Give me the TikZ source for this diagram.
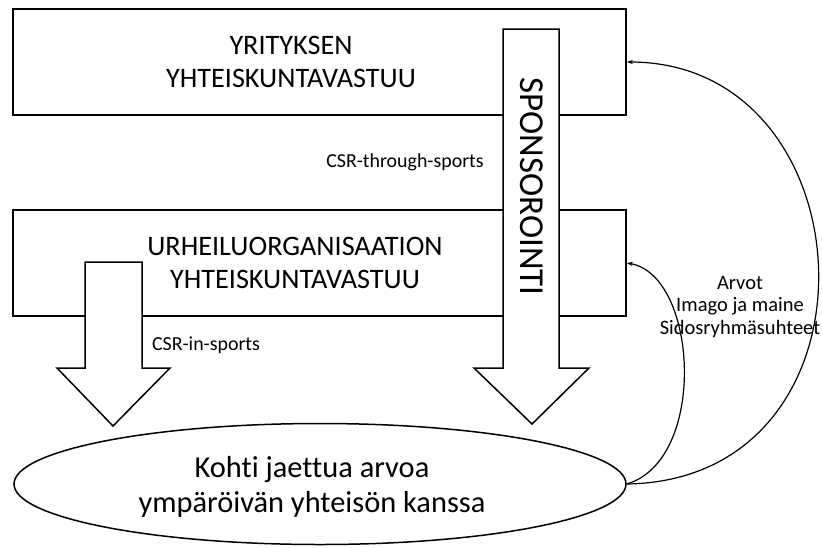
\documentclass[tikz,border=0pt]{standalone}
\usepackage{fontspec}
\setmainfont[Ligatures=NoCommon]{Carlito}
\usetikzlibrary{arrows.meta,shapes.geometric}
\begin{document}
\begin{tikzpicture}[x=1pt,y=-1pt,
  box/.style={draw, line width=1.5pt, minimum width=613pt, minimum height=106pt, inner sep=0pt},
  blockarrow/.style={draw, fill=white, line width=1.5pt, line join=miter},
  oval/.style={draw, ellipse, line width=1.5pt, minimum width=612pt, minimum height=121pt, inner sep=0pt},
  big/.style={font=\fontsize{28.2}{33}\selectfont, align=center, inner sep=0pt},
  vert/.style={font=\fontsize{35}{40}\selectfont, inner sep=0pt},
  huge/.style={font=\fontsize{30.4}{35}\selectfont, align=center, inner sep=0pt},
  small/.style={font=\fontsize{19.9}{22.5}\selectfont, align=center, inner sep=0pt},
  side/.style={font=\fontsize{20.5}{22.5}\selectfont, align=center, inner sep=0pt},
  link/.style={line width=1.2pt, -{Stealth[length=6pt,width=4pt]}}]
\useasboundingbox (0,0) rectangle (822,547);
\node[box] (r1) at (319.5,62) {};
\node[box] (r2) at (319.5,263) {};
\node[big] (t1) at (291,62) {YRITYKSEN\\YHTEISKUNTAVASTUU};
\node[big] (t2) at (295,263) {URHEILUORGANISAATION\\YHTEISKUNTAVASTUU};
% block arrows
\draw[blockarrow] (503,29) coordinate (sa) -- (559,29) -- (559,368) -- (589,368) -- (532,424) coordinate (sb) -- (474,368) -- (503,368) -- cycle;
\draw[blockarrow] (85,262) coordinate (la) -- (142,262) -- (142,368) -- (170,368) -- (113,426) coordinate (lb) -- (57,368) -- (85,368) -- cycle;
\node[vert, rotate=-90] (sp) at (532,186.5) {SPONSOROINTI};
\node[small] (c1) at (405,162) {CSR-through-sports};
\node[small] (c2) at (206,345) {CSR-in-sports};
\node[oval] (e) at (320,484) {};
\node[huge] (et) at (312,487) {Kohti jaettua arvoa\\ympäröivän yhteisön kanssa};
\draw[link] (e.east) .. controls (708,460) and (698,275) .. (r2.east);
\draw[link] (e.east) .. controls (892,480) and (872,62) .. (r1.east);
\node[side] (lab) at (740,307) {Arvot\\Imago ja maine\\Sidosryhmäsuhteet};
\end{tikzpicture}
\end{document}
